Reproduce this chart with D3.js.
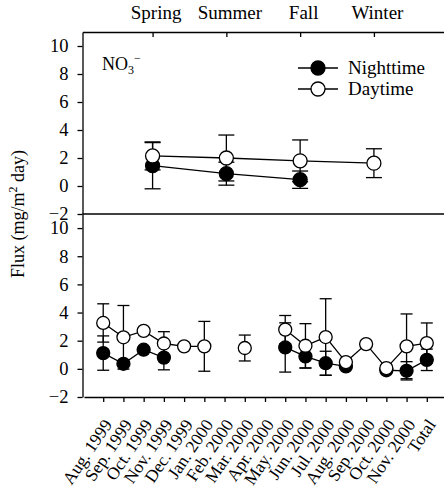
<!DOCTYPE html>
<html>
<head>
<meta charset="utf-8">
<script src="https://cdn.jsdelivr.net/npm/d3@7"></script>
<style>
  body { margin: 0; background: #fff; }
  svg { display: block; font-family: "Liberation Serif", "Times New Roman", serif; }
  .axis path, .axis line { stroke: #000; stroke-width: 1.3; }
  .axis text { fill: #000; }
</style>
</head>
<body>
<script>
// seasonal panel
var seasons = ["Spring", "Summer", "Fall", "Winter"];
var seasonNight = [1.45, 0.88, 0.45, null];
var seasonNightErr = [1.65, 0.82, 0.62, null];
var seasonDay = [2.15, 2.0, 1.8, 1.63];
var seasonDayErr = [1.0, 1.64, 1.49, 1.03];

// monthly panel
var months = ["Aug. 1999", "Sep. 1999", "Oct. 1999", "Nov. 1999", "Dec. 1999", "Jan. 2000",
  "Feb. 2000", "Mar. 2000", "Apr. 2000", "May. 2000", "Jun. 2000", "Jul. 2000",
  "Aug. 2000", "Sep. 2000", "Oct. 2000", "Nov. 2000", "Total"];
var monthNight = [1.12, 0.36, 1.36, 0.8, null, null, null, null, null, 1.52, 0.88, 0.4,
  0.17, null, -0.1, -0.14, 0.64];
var monthNightErr = [1.22, null, null, 0.87, null, null, null, null, null, 1.75, 0.83, 0.85,
  null, null, null, 0.65, 0.76];
var monthDay = [3.26, 2.24, 2.7, 1.8, 1.6, 1.6, null, 1.48, null, 2.79, 1.64, 2.26,
  0.48, 1.76, 0.05, 1.6, 1.83];
var monthDayErr = [1.36, 2.26, null, 0.84, null, 1.77, null, 0.92, null, 1.0, 1.57, 2.72,
  null, null, null, 2.3, 1.43];

var yTicks = [-2, 0, 2, 4, 6, 8, 10];

(function() {
  var W = 444, H = 488;
  var left = 82.5, right = 444, yTopEdge = 32, yMid = 214, yBottom = 397;

  var svg = d3.select("body").append("svg").attr("width", W).attr("height", H);

  var xSeason = d3.scalePoint().domain(seasons).range([left, right]).padding(0.95);
  var xMonth = d3.scalePoint().domain(months).range([left + 1.5, right + 2]).padding(0.95);
  var yTop = d3.scaleLinear().domain([-2, 11]).range([yMid, yTopEdge]);
  var yBot = d3.scaleLinear().domain([-2, 11]).range([yBottom, yMid]);

  function minus(d) { return d < 0 ? "\u2212" + (-d) : d; }

  // axes
  var axTop = svg.append("g").attr("class", "axis").attr("transform", "translate(0," + yTopEdge + ")")
    .call(d3.axisTop(xSeason).tickSizeInner(-5).tickSizeOuter(0).tickPadding(13))
    .attr("font-family", null).attr("font-size", 19);
  axTop.selectAll("text").attr("dx", 3);

  svg.append("g").attr("class", "axis").attr("transform", "translate(" + left + ",0)")
    .call(d3.axisLeft(yTop).tickValues(yTicks).tickSize(5).tickSizeOuter(0).tickPadding(9).tickFormat(minus))
    .attr("font-family", null).attr("font-size", 18.5);

  svg.append("g").attr("class", "axis").attr("transform", "translate(" + left + ",0)")
    .call(d3.axisLeft(yBot).tickValues(yTicks).tickSize(5).tickSizeOuter(0).tickPadding(9).tickFormat(minus))
    .attr("font-family", null).attr("font-size", 18.5);

  var axBot = svg.append("g").attr("class", "axis").attr("transform", "translate(0," + yBottom + ")")
    .call(d3.axisBottom(xMonth).tickSize(5).tickSizeOuter(0))
    .attr("font-family", null).attr("font-size", 17.5);
  axBot.selectAll("text")
    .attr("text-anchor", "end")
    .attr("dy", "0.35em")
    .attr("y", 0)
    .attr("transform", "translate(4,24) rotate(-56)");

  svg.append("line").attr("x1", left).attr("x2", right).attr("y1", yMid).attr("y2", yMid)
    .attr("stroke", "#000").attr("stroke-width", 1.3);

  // one panel: error bars, lines, then filled and open markers
  function panel(x, y, cats, night, nightErr, day, dayErr, r, cap) {
    var g = svg.append("g");
    var idx = d3.range(cats.length);

    function bars(vals, errs) {
      idx.forEach(function(i) {
        if (vals[i] == null || errs[i] == null) return;
        var cx = x(cats[i]), y0 = y(vals[i] - errs[i]), y1 = y(vals[i] + errs[i]);
        g.append("line").attr("x1", cx).attr("x2", cx).attr("y1", y0).attr("y2", y1);
        g.append("line").attr("x1", cx - cap).attr("x2", cx + cap).attr("y1", y0).attr("y2", y0);
        g.append("line").attr("x1", cx - cap).attr("x2", cx + cap).attr("y1", y1).attr("y2", y1);
      });
    }
    bars(day, dayErr);
    bars(night, nightErr);
    g.selectAll("line").attr("stroke", "#000").attr("stroke-width", 1.3);

    [night, day].forEach(function(vals) {
      g.append("path")
        .attr("d", d3.line()
          .defined(function(i) { return vals[i] != null; })
          .x(function(i) { return x(cats[i]); })
          .y(function(i) { return y(vals[i]); })(idx))
        .attr("fill", "none").attr("stroke", "#000").attr("stroke-width", 1.3);
    });

    g.selectAll(".night").data(idx.filter(function(i) { return night[i] != null; }))
      .enter().append("circle").attr("class", "night")
      .attr("cx", function(i) { return x(cats[i]); })
      .attr("cy", function(i) { return y(night[i]); })
      .attr("r", r).attr("fill", "#000").attr("stroke", "#000").attr("stroke-width", 1.3);

    g.selectAll(".day").data(idx.filter(function(i) { return day[i] != null; }))
      .enter().append("circle").attr("class", "day")
      .attr("cx", function(i) { return x(cats[i]); })
      .attr("cy", function(i) { return y(day[i]); })
      .attr("r", r).attr("fill", "#fff").attr("stroke", "#000").attr("stroke-width", 1.3);
  }

  panel(xSeason, yTop, seasons, seasonNight, seasonNightErr, seasonDay, seasonDayErr, 7, 8);
  panel(xMonth, yBot, months, monthNight, monthNightErr, monthDay, monthDayErr, 6.5, 6);

  // NO3- label
  var no3 = svg.append("text").attr("x", 102).attr("y", 70).attr("font-size", 18);
  no3.append("tspan").text("NO");
  no3.append("tspan").attr("font-size", 12).attr("dy", 4).text("3");
  no3.append("tspan").attr("font-size", 12).attr("dy", -12).text("\u2212");

  // legend
  var legend = svg.append("g").attr("transform", "translate(298,68)");
  [["Nighttime", "#000"], ["Daytime", "#fff"]].forEach(function(d, i) {
    var row = legend.append("g").attr("transform", "translate(0," + i * 21 + ")");
    row.append("line").attr("x1", 0).attr("x2", 40).attr("stroke", "#000").attr("stroke-width", 1.3);
    row.append("circle").attr("cx", 20).attr("r", 7).attr("fill", d[1]).attr("stroke", "#000").attr("stroke-width", 1.3);
    row.append("text").attr("x", 50).attr("y", 6).attr("font-size", 19).text(d[0]);
  });

  // y title
  var yt = svg.append("text").attr("transform", "translate(24,214) rotate(-90)")
    .attr("text-anchor", "middle").attr("font-size", 18);
  yt.append("tspan").text("Flux (mg/m");
  yt.append("tspan").attr("font-size", 12).attr("dy", -7).text("2");
  yt.append("tspan").attr("dy", 7).text(" day)");
})();
</script>
</body>
</html>
